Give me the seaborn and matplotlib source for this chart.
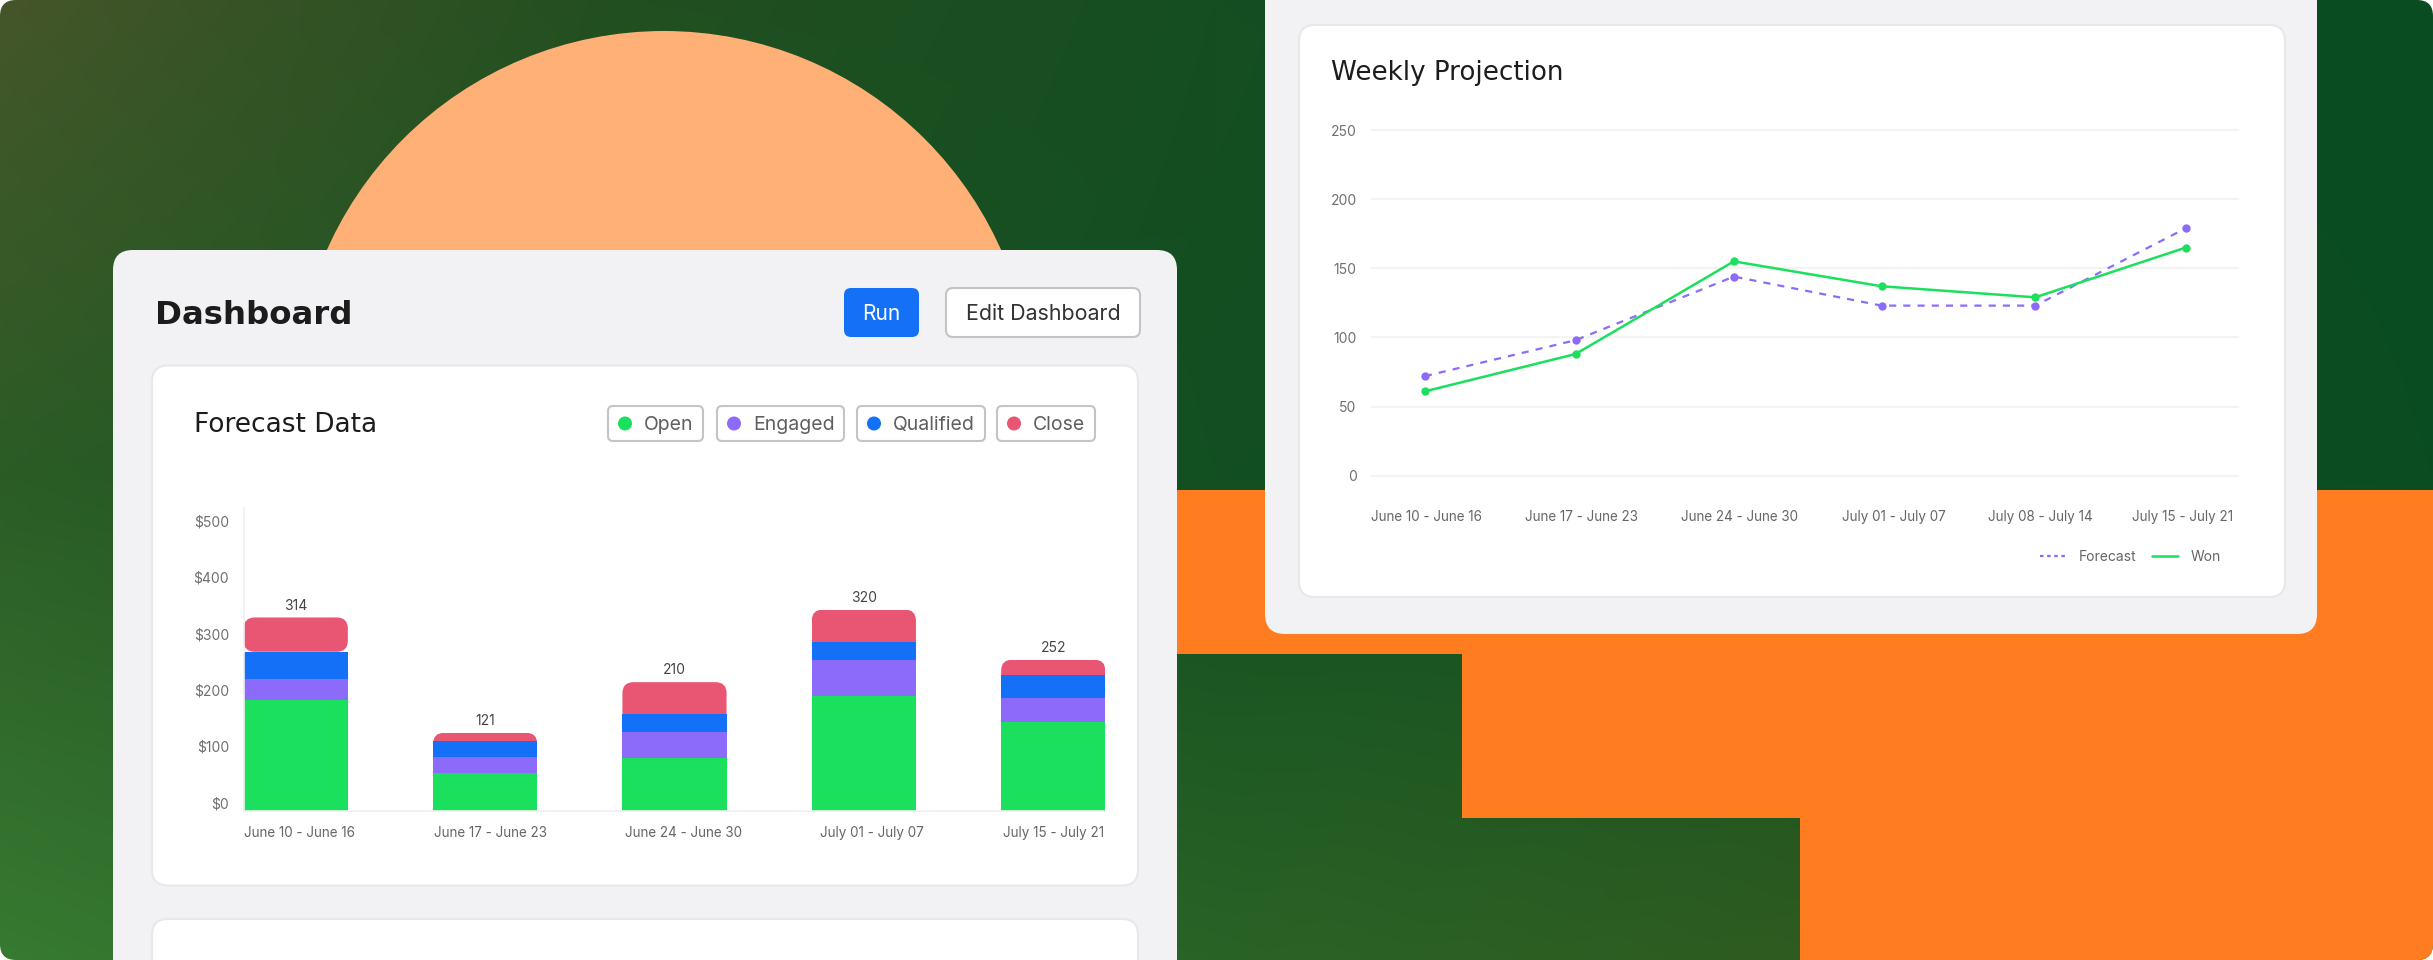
import numpy as np
import pandas as pd
import matplotlib
matplotlib.use("Agg")
import matplotlib.pyplot as plt
from matplotlib.colors import to_rgb
from matplotlib.patches import Circle, FancyBboxPatch, Polygon
import seaborn as sns

W, H = 2433, 960

# forecast bars
bar_weeks = ["June 10 - June 16", "June 17 - June 23", "June 24 - June 30", "July 01 - July 07", "July 15 - July 21"]
bar_open = [198, 68, 94, 205, 158]
bar_engaged = [36, 28, 46, 64, 43]
bar_qualified = [49, 29, 33, 32, 40]
bar_close = [61, 14, 56, 57, 28]
bar_totals = ["314", "121", "210", "320", "252"]
bar_ticks = [0, 100, 200, 300, 400, 500]

# weekly projection lines
line_weeks = ["June 10 - June 16", "June 17 - June 23", "June 24 - June 30", "July 01 - July 07", "July 08 - July 14", "July 15 - July 21"]
line_x = [0, 0.99, 2.03, 3, 4.01, 5]
forecast = [72, 98, 144, 123, 123, 179]
won = [61, 88, 155, 137, 129, 165]
line_ticks = [0, 50, 100, 150, 200, 250]

GREEN = "#1be05e"
PURPLE = "#8d6bfa"
BLUE = "#1570f8"
RED = "#e95673"
ORANGE = "#ff7c20"
PEACH = "#ffb077"
PANEL = "#f2f2f4"
BORDER = "#e8e8ea"

sns.set_theme(style="white")
plt.rcParams["font.family"] = ["Inter", "DejaVu Sans"]
TITLE_FONT = ["DejaVu Sans"]


def px_axes(fig, left, top, right, bottom):
    # axes placed by pixel box, y measured from the top of the picture
    ax = fig.add_axes([left / W, 1 - bottom / H, (right - left) / W, (bottom - top) / H])
    ax.patch.set_alpha(0)
    return ax


def round_box(ax, x0, y0, x1, y1, r, **kw):
    box = FancyBboxPatch((x0, y0), x1 - x0, y1 - y0, boxstyle=f"round,pad=0,rounding_size={r}", **kw)
    ax.add_patch(box)
    return box


fig = plt.figure(figsize=(W / 100, H / 100), dpi=100, facecolor="white")

# backdrop: everything in picture pixels
bg = fig.add_axes([0, 0, 1, 1])
bg.axis("off")

grid = np.array([
    [to_rgb(c) for c in ["#45562a", "#234f20", "#154e21", "#0b4d22", "#0a4c22"]],
    [to_rgb(c) for c in ["#2b5c26", "#1b5522", "#124f21", "#104f21", "#0b4d22"]],
    [to_rgb(c) for c in ["#377a31", "#2d6b2a", "#2a6326", "#2f5b20", "#2f5a20"]],
])
img = bg.imshow(grid, extent=(-304, W + 304, H + 240, -240), aspect="auto", interpolation="bilinear", zorder=0)
frame = FancyBboxPatch((0, 0), W, H, boxstyle="round,pad=0,rounding_size=16", fc="none", ec="none", transform=bg.transData)
bg.add_patch(frame)
img.set_clip_path(frame)
bg.set_xlim(0, W)
bg.set_ylim(H, 0)

peach = Circle((664, 400), 369, fc=PEACH, ec="none", zorder=1)
bg.add_patch(peach)
orange = Polygon([(1100, 490), (W, 490), (W, H), (1800, H), (1800, 818), (1462, 818), (1462, 654), (1100, 654)],
                 closed=True, fc=ORANGE, ec="none", zorder=1)
bg.add_patch(orange)
orange.set_clip_path(frame)

# panels and cards
round_box(bg, 113, 250, 1177, H + 60, 20, fc=PANEL, ec="none", zorder=2)
round_box(bg, 1265, -60, 2317, 634, 20, fc=PANEL, ec="none", zorder=2)
round_box(bg, 152, 365.5, 1138, 885.5, 16, fc="white", ec=BORDER, lw=1.5, zorder=3)
round_box(bg, 152, 919, 1138, H + 60, 16, fc="white", ec=BORDER, lw=1.5, zorder=3)
round_box(bg, 1299, 25, 2285, 597, 16, fc="white", ec=BORDER, lw=1.5, zorder=3)

# header of the dashboard
bg.text(155, 316, "Dashboard", fontsize=23.3, fontweight="bold", color="#1c1c1c", family=TITLE_FONT, va="center", zorder=5)
round_box(bg, 844, 288, 919, 337, 7, fc=BLUE, ec="none", zorder=4)
bg.text(881.5, 314, "Run", fontsize=15, color="white", ha="center", va="center", zorder=5)
round_box(bg, 946, 288, 1140, 337, 7, fc="white", ec="#c4c4c4", lw=1.5, zorder=4)
bg.text(1043, 314, "Edit Dashboard", fontsize=15.4, color="#333333", ha="center", va="center", zorder=5)

bg.text(194, 425.5, "Forecast Data", fontsize=19, color="#1c1c1c", family=TITLE_FONT, va="center", zorder=5)
bg.text(1331, 73, "Weekly Projection", fontsize=18.8, color="#1c1c1c", family=TITLE_FONT, va="center", zorder=5)

# legend chips of the bar chart
chips = [("Open", GREEN, 608, 703), ("Engaged", PURPLE, 717, 844), ("Qualified", BLUE, 857, 985), ("Close", RED, 997, 1095)]
for name, color, x0, x1 in chips:
    round_box(bg, x0, 406, x1, 441, 5, fc="white", ec="#c4c4c4", lw=1.5, zorder=4)
    bg.add_patch(Circle((x0 + 17, 423.5), 7, fc=color, ec="none", zorder=5))
    bg.text(x0 + 36, 425, name, fontsize=14, color="#5f5f5f", va="center", zorder=5)

# stacked bars
ax = px_axes(fig, 243.7, 508, 1105.3, 811)
ax.set_zorder(5)
df_bars = pd.DataFrame({"week": bar_weeks, "Open": bar_open, "Engaged": bar_engaged,
                        "Qualified": bar_qualified, "Close": bar_close})
bottom = np.zeros(len(df_bars))
for col, color in [("Open", GREEN), ("Engaged", PURPLE), ("Qualified", BLUE), ("Close", RED)]:
    sns.barplot(data=df_bars, x="week", y=col, color=color, saturation=1, width=0.55, bottom=bottom,
                errorbar=None, linewidth=0, ax=ax)
    bottom = bottom + df_bars[col].values
ax.set_xlim(-0.275, 4.275)
ax.set_ylim(0, 538.6)

# rounded tops on the last segment; the first bar is rounded all round
x_unit = 189.4
y_unit = 0.562
radius = 11 / x_unit
for i, rect in enumerate(ax.containers[-1]):
    x, y, w, h = rect.get_x(), rect.get_y(), rect.get_width(), rect.get_height()
    extra = 0 if i == 0 else 40
    clip = FancyBboxPatch((x, y - extra), w, h + extra, boxstyle=f"round,pad=0,rounding_size={radius}",
                          mutation_aspect=x_unit / y_unit, transform=ax.transData)
    rect.set_clip_path(clip)

for i, label in enumerate(bar_totals):
    ax.annotate(label, (i, bottom[i]), xytext=(0, 8.5), textcoords="offset points", ha="center", va="center",
                fontsize=10, color="#444444", annotation_clip=False)

sns.despine(ax=ax)
for side in ["left", "bottom"]:
    ax.spines[side].set_color("#efeff1")
    ax.spines[side].set_linewidth(1.2)
ax.set_xlabel("")
ax.set_ylabel("")
ax.set_yticks(bar_ticks)
ax.set_yticklabels([f"${t}" for t in bar_ticks], va="bottom")
ax.set_xticks([0.02, 1.03, 2.05, 3.04, 4.0])
ax.set_xticklabels(bar_weeks)
ax.tick_params(axis="y", length=0, pad=10.5, labelsize=10, labelcolor="#6f6f6f")
ax.tick_params(axis="x", length=0, pad=11, labelsize=9.7, labelcolor="#666666")

# projection lines
ax2 = px_axes(fig, 1372, 130, 2238, 475.7)
ax2.set_zorder(5)
sns.lineplot(x=line_x, y=forecast, color=PURPLE, linewidth=1.6, linestyle=(0, (3.2, 3.2)), marker="o",
             markersize=6, markeredgewidth=0, label="Forecast", ax=ax2)
sns.lineplot(x=line_x, y=won, color=GREEN, linewidth=1.8, marker="o",
             markersize=6, markeredgewidth=0, label="Won", ax=ax2)
ax2.set_xlim(-0.3475, 5.342)
ax2.set_ylim(0, 250)
ax2.set_yticks(line_ticks)
ax2.set_xticks([0.01, 1.03, 2.07, 3.08, 4.04, 4.98])
ax2.set_xticklabels(line_weeks)
ax2.tick_params(axis="y", length=0, pad=11, labelsize=10, labelcolor="#6f6f6f")
ax2.tick_params(axis="x", length=0, pad=25, labelsize=9.7, labelcolor="#666666")
ax2.grid(axis="y", color="#f3f3f4", linewidth=1.5)
ax2.set_axisbelow(True)
sns.despine(ax=ax2, left=True, bottom=True)
for gl in ax2.get_ygridlines():
    gl.set_clip_on(False)

leg = ax2.legend(loc="center right", bbox_to_anchor=((2221 - 1372) / 866, (475.7 - 557) / 345.7), ncol=2, frameon=False,
                 fontsize=10, handlelength=1.9, handletextpad=0.9, columnspacing=1.1, borderpad=0, borderaxespad=0,
                 labelcolor="#666666")
for line in leg.get_lines():
    line.set_marker("None")
leg.get_lines()[0].set_linestyle((0, (1.6, 1.6)))

fig.savefig("out.png", dpi=100, facecolor="white")
